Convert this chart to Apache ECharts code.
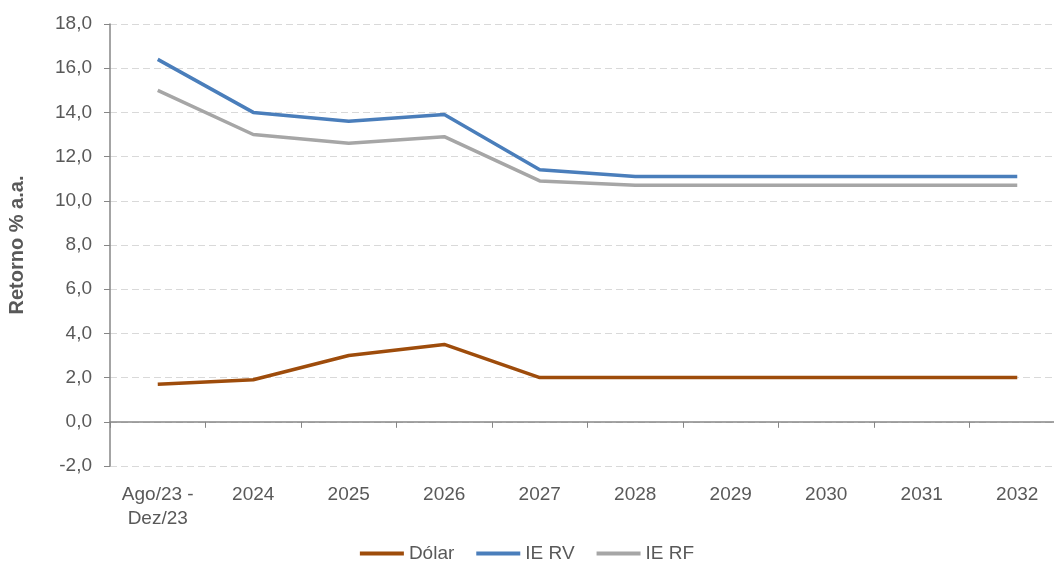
<!DOCTYPE html>
<html>
<head>
<meta charset="utf-8">
<script src="https://cdn.jsdelivr.net/npm/echarts@6/dist/echarts.min.js"></script>
<style>
  html, body { margin: 0; padding: 0; background: #fff; }
  #chart { width: 1054px; height: 566px; }
</style>
</head>
<body>
<div id="chart"></div>
<script>
// categorias e séries
const categories = ['Ago/23 -\nDez/23', '2024', '2025', '2026', '2027', '2028', '2029', '2030', '2031', '2032']
const dolar = [1.7, 1.9, 3.0, 3.5, 2.0, 2.0, 2.0, 2.0, 2.0, 2.0]
const ieRV = [16.4, 14.0, 13.6, 13.9, 11.4, 11.1, 11.1, 11.1, 11.1, 11.1]
const ieRF = [15.0, 13.0, 12.6, 12.9, 10.9, 10.7, 10.7, 10.7, 10.7, 10.7]

const textColor = '#595959'
const font = 'Liberation Sans, Arial, sans-serif'

const chart = echarts.init(document.getElementById('chart'))
chart.setOption({
  animation: false,
  textStyle: { fontFamily: font },
  grid: { left: 110, right: -11, top: 24, bottom: 100, outerBoundsMode: 'none', containLabel: false },
  legend: {
    bottom: -2,
    left: 'center',
    itemWidth: 44,
    itemHeight: 4,
    itemGap: 22,
    icon: 'rect',
    textStyle: { color: textColor, fontSize: 19, fontFamily: font },
    data: ['Dólar', 'IE RV', 'IE RF'],
  },
  xAxis: [
    {
      type: 'category',
      data: categories,
      axisLine: { onZero: true, lineStyle: { color: '#868686', width: 1.5 } },
      axisTick: { show: true, length: 6, lineStyle: { color: '#868686' } },
      axisLabel: { show: false },
    },
    {
      type: 'category',
      data: categories,
      position: 'bottom',
      axisLine: { show: false, onZero: false },
      axisTick: { show: false },
      axisLabel: { color: textColor, fontSize: 19, margin: 17, lineHeight: 24, fontFamily: font },
    },
  ],
  yAxis: {
    type: 'value',
    min: -2,
    max: 18,
    interval: 2,
    name: 'Retorno % a.a.',
    nameLocation: 'middle',
    nameGap: 83,
    nameTextStyle: { color: textColor, fontSize: 20, fontWeight: 'bold', fontFamily: font },
    axisLine: { show: true, lineStyle: { color: '#868686', width: 1.5 } },
    axisTick: { show: true, length: 6, lineStyle: { color: '#868686' } },
    axisLabel: {
      color: textColor,
      fontSize: 19,
      margin: 18,
      fontFamily: font,
      formatter: v => v.toFixed(1).replace('.', ','),
    },
    splitLine: { lineStyle: { color: '#D9D9D9', type: [7, 4], width: 1.2 } },
  },
  series: [
    { name: 'Dólar', type: 'line', data: dolar, showSymbol: false, color: '#9E4C0B', lineStyle: { width: 3.5 } },
    { name: 'IE RV', type: 'line', data: ieRV, showSymbol: false, color: '#4A7EBB', lineStyle: { width: 3.5 } },
    { name: 'IE RF', type: 'line', data: ieRF, showSymbol: false, color: '#A6A6A6', lineStyle: { width: 3.5 } },
  ],
})
</script>
</body>
</html>
